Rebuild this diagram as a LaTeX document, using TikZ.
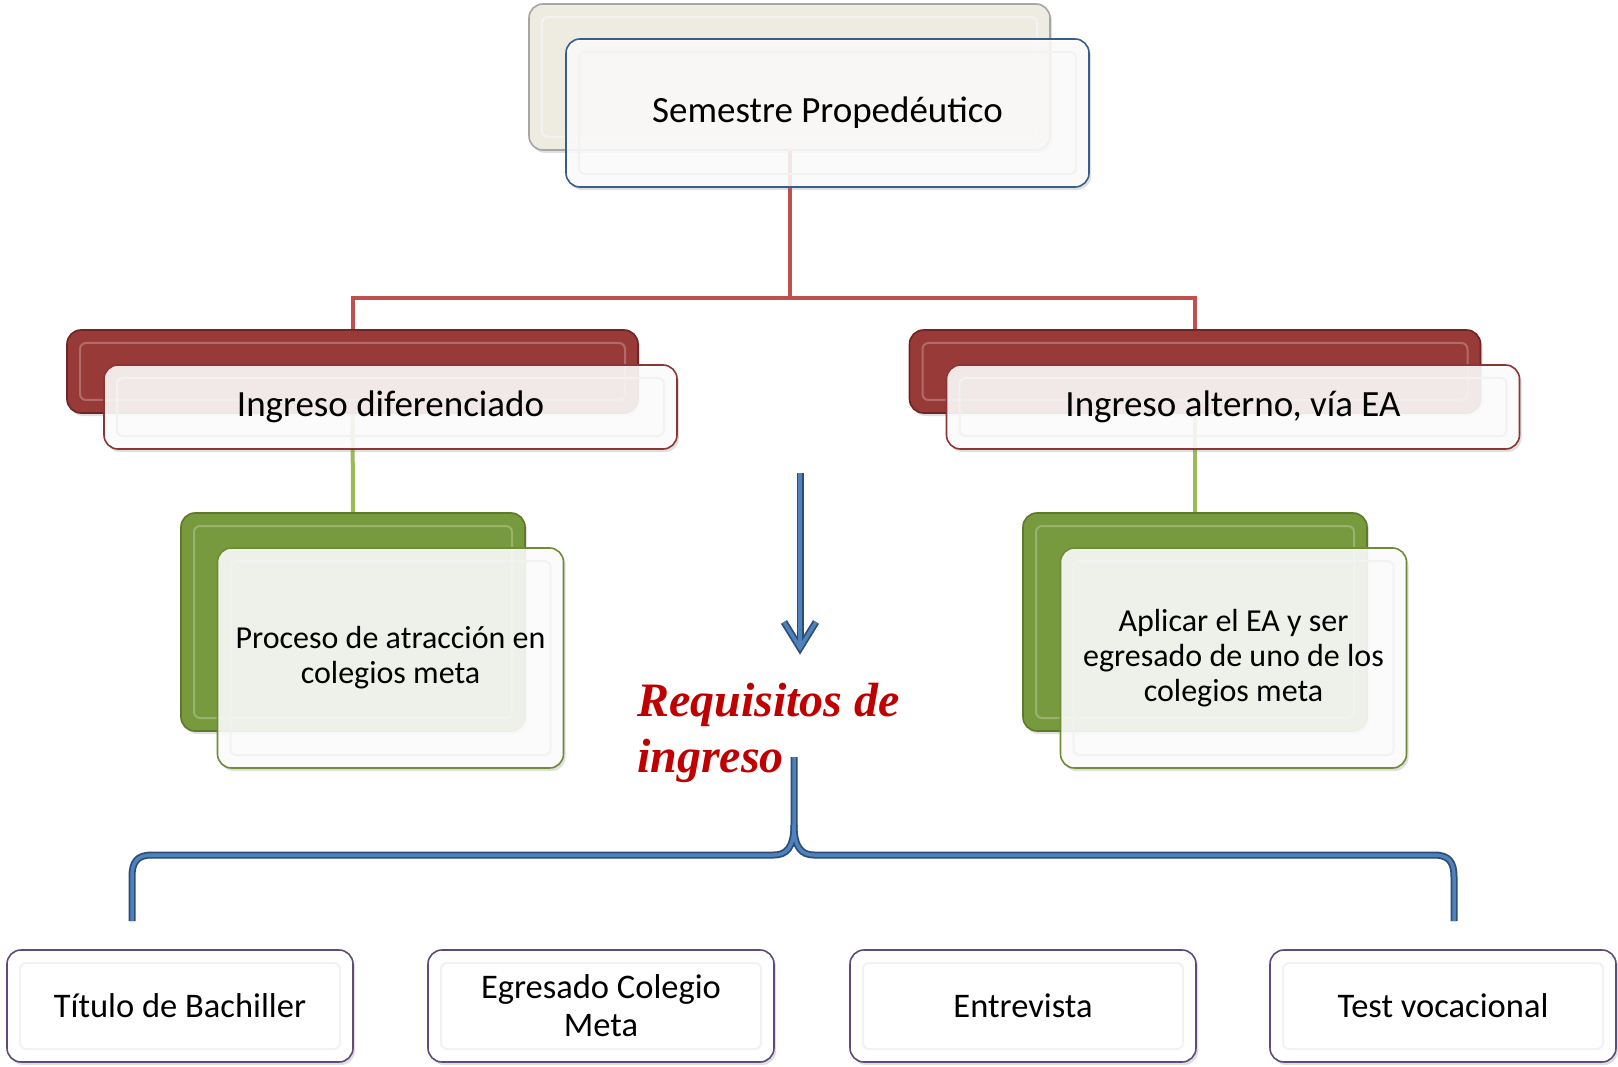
\documentclass[tikz,border=0pt]{standalone}
\usepackage{fontspec}
\setmainfont{Carlito}
\newfontfamily\reqfont{Liberation Serif}
\usetikzlibrary{shadows}
\definecolor{cream}{HTML}{EEECE1}
\definecolor{creamline}{HTML}{A6A6A6}
\definecolor{navyline}{HTML}{385D8A}
\definecolor{redfill}{HTML}{983A38}
\definecolor{redline}{HTML}{6E2523}
\definecolor{redfront}{HTML}{8C3532}
\definecolor{redconn}{HTML}{C0504D}
\definecolor{greenfill}{HTML}{779A3F}
\definecolor{greenline}{HTML}{5C7A2A}
\definecolor{greenfront}{HTML}{6E8C35}
\definecolor{greenconn}{HTML}{9BBB59}
\definecolor{purpline}{HTML}{5E4B7A}
\definecolor{bluemain}{HTML}{4F81BD}
\definecolor{bluedark}{HTML}{2C4D75}
\definecolor{reqred}{HTML}{C00000}
\pgfdeclarelayer{bg}
\pgfsetlayers{bg,main}
\tikzset{
  bx/.style={rectangle, rounded corners=14pt, line width=1.6pt, inner sep=0pt, align=center,
    drop shadow={opacity=.25, shadow xshift=2pt, shadow yshift=-3pt}},
  bevelw/.style={path picture={\draw[gray!10, line width=2pt, rounded corners=6pt]
      ([shift={(13pt,-13pt)}]path picture bounding box.north west) rectangle
      ([shift={(-13pt,13pt)}]path picture bounding box.south east);}},
  bevelc/.style={path picture={\draw[white, opacity=.25, line width=2pt, rounded corners=6pt]
      ([shift={(13pt,-13pt)}]path picture bounding box.north west) rectangle
      ([shift={(-13pt,13pt)}]path picture bounding box.south east);}},
  topback/.style={bx, bevelw, fill=cream, draw=creamline, minimum width=521pt, minimum height=146pt},
  topfront/.style={bx, bevelw, fill=white, fill opacity=.85, text opacity=1, draw=navyline,
    minimum width=523pt, minimum height=148pt, font=\fontsize{37}{40}\selectfont},
  redback/.style={bx, bevelc, fill=redfill, draw=redline, minimum width=571pt, minimum height=83pt},
  redfrontbox/.style={bx, bevelw, fill=white, fill opacity=.88, text opacity=1, draw=redfront,
    minimum width=573pt, minimum height=84pt, font=\fontsize{37}{40}\selectfont},
  greenback/.style={bx, bevelc, fill=greenfill, draw=greenline, minimum width=344pt, minimum height=218pt},
  greenfrontbox/.style={bx, bevelw, fill=white, fill opacity=.88, text opacity=1, draw=greenfront,
    minimum width=346pt, minimum height=220pt, font=\fontsize{32}{35}\selectfont},
  reqbox/.style={bx, bevelw, fill=white, draw=purpline, minimum width=346pt, minimum height=112pt,
    font=\fontsize{34.5}{38}\selectfont},
  redwire/.style={draw=redconn, line width=4pt},
  greenwire/.style={draw=greenconn, line width=4pt},
  bluedarkline/.style={draw=bluedark, line width=7pt},
  bluelightline/.style={draw=bluemain, line width=3.5pt},
}
\begin{document}
\begin{tikzpicture}[x=1pt,y=-1pt]
\begin{pgfonlayer}{bg}
\fill[white] (0,0) rectangle (1618,1067);
\end{pgfonlayer}
\useasboundingbox (0,0) rectangle (1618,1067);

% top
\node[topback] (tb) at (789.5,77) {};
\node[topfront] (tf) at (827.5,113) {Semestre Propedéutico};

% second level
\node[redback] (lb) at (352.5,371.5) {};
\node[redfrontbox] (lf) at (390.5,407) {Ingreso diferenciado};
\node[redback] (rb) at (1195,371.5) {};
\node[redfrontbox] (rf) at (1233,407) {Ingreso alterno, vía EA};

% third level
\node[greenback] (lgb) at (353,622) {};
\node[greenfrontbox] (lgf) at (390.5,658) {Proceso de atracción en\\colegios meta};
\node[greenback] (rgb) at (1195,622) {};
\node[greenfrontbox] (rgf) at (1233.5,658) {Aplicar el EA y ser\\egresado de uno de los\\colegios meta};

% requisites title
\node[anchor=north west, inner sep=0pt, align=left, text=reqred,
      font=\reqfont\bfseries\itshape\fontsize{48}{56}\selectfont] (req) at (637,683)
      {Requisitos de\\ingreso};

% bottom boxes
\node[reqbox] (q1) at (180,1006) {Título de Bachiller};
\node[reqbox] (q2) at (601,1006) {Egresado Colegio\\Meta};
\node[reqbox] (q3) at (1023,1006) {Entrevista};
\node[reqbox] (q4) at (1443,1006) {Test vocacional};

% arrow and brace coordinates
\coordinate (as) at (800,473);
\coordinate (ae) at (800,652);
\coordinate (bt) at (794,757);
\coordinate (bl) at (132,921);
\coordinate (br) at (1454,921);

\begin{pgfonlayer}{bg}
  \draw[redwire] (tb.south) -- (tb.south |- 0,298) -| (lb.north);
  \draw[redwire] (tb.south) -- (tb.south |- 0,298) -| (rb.north);
  \draw[greenwire] (lb.south) -- (lgb.north);
  \draw[greenwire] (rb.south) -- (rgb.north);
\end{pgfonlayer}

% blue arrow
\foreach \st in {bluedarkline,bluelightline}{
  \draw[\st, line cap=butt] (as) -- ([yshift=8pt]ae);
  \draw[\st, line join=miter] ([xshift=-16pt,yshift=30pt]ae) -- ([yshift=4pt]ae) -- ([xshift=16pt,yshift=30pt]ae);
}

% brace
\foreach \st in {bluedarkline,bluelightline}{
  \draw[\st] (bt) -- ++(0,68) .. controls ++(0,23) and ++(12,0) .. (774,855)
     -- (152,855) .. controls ++(-15,0) and ++(0,-15) .. (132,877) -- (bl);
  \draw[\st] (bt) ++(0,68) .. controls ++(0,23) and ++(-12,0) .. (814,855)
     -- (1434,855) .. controls ++(15,0) and ++(0,-15) .. (1454,877) -- (br);
}
\end{tikzpicture}
\end{document}
